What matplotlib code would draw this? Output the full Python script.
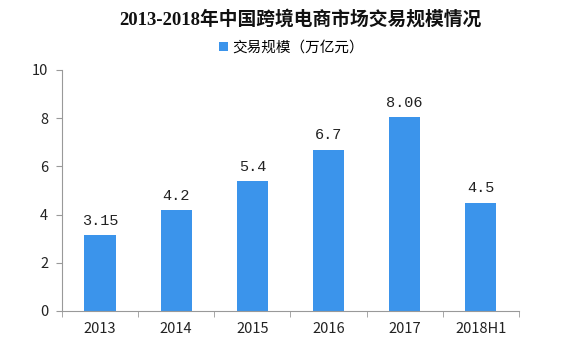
import matplotlib
matplotlib.use("Agg")
import matplotlib.pyplot as plt
import numpy as np

plt.rcParams['font.family'] = ['Noto Sans CJK SC', 'DejaVu Sans']

categories = ["2013", "2014", "2015", "2016", "2017", "2018H1"]
values = [3.15, 4.2, 5.4, 6.7, 8.06, 4.5]
labels = ["3.15", "4.2", "5.4", "6.7", "8.06", "4.5"]
title = "2013-2018年中国跨境电商市场交易规模情况"
series_name = "交易规模（万亿元）"
color = "#3B94EB"

fig = plt.figure(figsize=(5.72, 3.51), dpi=100)
ax = fig.add_axes([0.1084, 0.114, 0.7986, 0.6866])
x = np.arange(len(categories))
bars = ax.bar(x, values, width=0.41, color=color, label=series_name, zorder=2)
for xi, v, lab in zip(x, values, labels):
    ax.text(xi, v + 0.3, lab, ha='center', va='bottom', fontsize=11, color='#222222',
            family=['Liberation Mono', 'DejaVu Sans'])

ax.set_xlim(-0.5, len(categories) - 0.5)
ax.set_ylim(0, 10)
ax.set_yticks([0, 2, 4, 6, 8, 10])
ax.set_xticks(x)
ax.set_xticklabels(categories)
ax.set_xticks(np.arange(-0.5, len(categories)), minor=True)
ax.tick_params(axis='x', which='major', length=0, pad=8, labelsize=10.5, colors='#222222')
ax.tick_params(axis='x', which='minor', length=4, color='#999999', direction='out')
ax.tick_params(axis='y', length=4, color='#999999', labelsize=10.5, labelcolor='#222222', pad=6)
for s in ['top', 'right']:
    ax.spines[s].set_visible(False)
for s in ['left', 'bottom']:
    ax.spines[s].set_color('#999999')
    ax.spines[s].set_linewidth(0.8)

fig.text(0.525, 0.945, title, ha='center', va='center', fontsize=13.5, fontweight='bold', color='#111111',
         family=['Liberation Serif', 'Noto Sans CJK SC'])
fig.legend(handles=[bars], labels=[series_name], loc='center', bbox_to_anchor=(0.51, 0.865),
           frameon=False, fontsize=10.5, handlelength=0.6, handleheight=0.6, handletextpad=0.3)

fig.savefig("out.png", dpi=100)
